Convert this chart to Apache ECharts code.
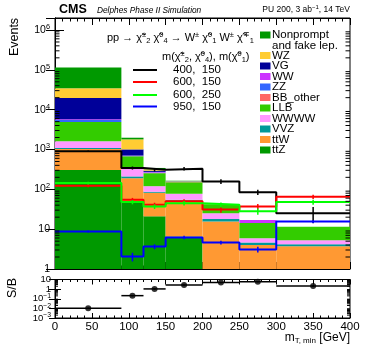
<!DOCTYPE html>
<html>
<head>
<meta charset="UTF-8">
<title>mT,min</title>
<script src="https://cdn.jsdelivr.net/npm/echarts@6.0.0/dist/echarts.min.js"></script>
<style>
  body { margin: 0; background: #fff; }
  #main { width: 369px; height: 354px; }
</style>
</head>
<body>
<div id="main"></div>
<script>
var FONT = 'Liberation Sans';

// bin edges in GeV
var binEdges = [0, 90, 120, 150, 200, 250, 300, 400];

// backgrounds, bottom of the stack first
var ttZ       = [306, 48, 21, 6.5, 0.5, 0.3, 0.2];
var ttW       = [717, 142, 61, 45, 15, 3.7, 3.5];
var VVZ       = [75, 21, 5, 3, 2.5, 0.6, 0.5];
var WWWW      = [513, 114, 33, 23, 7, 1.3, 1.1];
var LLB       = [3290, 350, 134, 74, 17.5, 8.3, 6.2];
var BBother   = [20, 5, 2, 1, 0, 0, 0];
var ZZ        = [600, 15, 8, 2, 0, 0, 0];
var WW        = [200, 10, 10, 2, 0, 2.9, 0];
var VG        = [14000, 300, 20, 1, 0, 0, 0];
var WZ        = [15000, 790, 24, 2, 0, 0, 0];
var nonprompt = [79000, 180, 26, 5, 0, 0, 0];

var bkgValues = [ttZ, ttW, VVZ, WWWW, LLB, BBother, ZZ, WW, VG, WZ, nonprompt];
var bkgNames  = ['ttZ', 'ttW', 'VVZ', 'WWWW', 'LLB', 'BB_other', 'ZZ', 'WW', 'VG', 'WZ', 'Nonprompt\nand fake lep.'];
var bkgColors = ['#009900', '#ff9933', '#009999', '#ff99ff', '#33cc00', '#ff6666', '#3366ff', '#cc33ff', '#000099', '#ffcc33', '#009900'];

// signals: m(chi2, chi4), m(chi1)
var sigLabels = ['400,  150', '600,  150', '600,  250', '950,  150'];
var sigColors = ['#000000', '#ff0000', '#00ff00', '#0000ff'];
var sig400_150 = [900, 344, 312, 330, 158, 85, 25];
var sig600_150 = [123, 55, 41, 50, 31, 37, 65];
var sig600_250 = [144, 48, 37, 45, 41, 28, 48];
var sig950_150 = [8.7, 2.05, 3.65, 6.2, 4.6, 3.1, 15.5];
var err400_150 = [40, 30, 30, 35, 22, 13, 11];
var err600_150 = [10, 6, 5, 6, 5, 6, 8];
var err600_250 = [12, 6, 5, 6, 6, 5, 7];
var err950_150 = [0.5, 0.5, 0.5, 0.6, 0.5, 0.5, 1.2];
var sigValues = [sig400_150, sig600_150, sig600_250, sig950_150];
var sigErrors = [err400_150, err600_150, err600_250, err950_150];

// ratio panel
var sOverB    = [0.0103, 0.21, 1.05, 2.7, 4.8, 6.0, 2.15];
var sOverBErr = [0.001, 0.03, 0.12, 0.3, 0.6, 0.9, 0.5];
var ratioTicks = [10, 1, 0.1, 0.01, 0.001];

var yMainMin = 1, yMainMax = 2e6;
var yRatMin = 1e-3, yRatMax = 10;

function powLabel(v) {
    var n = Math.round(Math.log10(v));
    if (n === 0) return '1';
    if (n === 1) return '10';
    return '10{e|' + (n < 0 ? '\u2212' + (-n) : n) + '}';
}

// stacked histogram boxes
var series = [];
var cumul = [0, 0, 0, 0, 0, 0, 0];
for (var p = 0; p < bkgValues.length; p++) {
    var rows = [];
    for (var b = 0; b < binEdges.length - 1; b++) {
        var lo = cumul[b];
        var hi = lo + bkgValues[p][b];
        cumul[b] = hi;
        rows.push([binEdges[b], binEdges[b + 1], Math.max(lo, yMainMin), hi]);
    }
    series.push({
        type: 'custom',
        name: bkgNames[p],
        xAxisIndex: 0, yAxisIndex: 0,
        clip: true,
        z: 2,
        encode: { x: [0, 1], y: [2, 3] },
        itemStyle: { color: bkgColors[p] },
        renderItem: function (params, api) {
            var lo = api.value(2), hi = api.value(3);
            if (hi <= lo || hi <= yMainMin) return null;
            var a = api.coord([api.value(0), hi]);
            var c = api.coord([api.value(1), lo]);
            return {
                type: 'rect',
                shape: { x: a[0], y: a[1], width: c[0] - a[0], height: c[1] - a[1] },
                style: { fill: api.visual('color') }
            };
        },
        data: rows
    });
}

// signal step lines + error bars
for (var s = 0; s < sigValues.length; s++) {
    var pts = [], errs = [];
    for (var b = 0; b < binEdges.length - 1; b++) {
        pts.push([binEdges[b], sigValues[s][b]]);
        errs.push([(binEdges[b] + binEdges[b + 1]) / 2, sigValues[s][b], sigErrors[s][b]]);
    }
    pts.push([binEdges[binEdges.length - 1], sigValues[s][binEdges.length - 2]]);
    series.push({
        type: 'line', xAxisIndex: 0, yAxisIndex: 0,
        step: 'end', showSymbol: false, z: 5 + s,
        lineStyle: { color: sigColors[s], width: 2 },
        data: pts
    });
    series.push({
        type: 'custom', xAxisIndex: 0, yAxisIndex: 0, z: 5 + s,
        itemStyle: { color: sigColors[s] },
        encode: { x: 0, y: 1 },
        renderItem: function (params, api) {
            var v = api.value(1), e = api.value(2);
            var a = api.coord([api.value(0), v + e]);
            var c = api.coord([api.value(0), Math.max(v - e, 1e-9)]);
            return { type: 'line', shape: { x1: a[0], y1: a[1], x2: c[0], y2: c[1] },
                     style: { stroke: api.visual('color'), lineWidth: 1.5 } };
        },
        data: errs
    });
}

// S/B panel
var ratRows = [], ratPts = [];
for (var b = 0; b < binEdges.length - 1; b++) {
    ratRows.push([binEdges[b], binEdges[b + 1], sOverB[b], sOverBErr[b]]);
    ratPts.push([(binEdges[b] + binEdges[b + 1]) / 2, sOverB[b]]);
}
series.push({
    type: 'custom', xAxisIndex: 2, yAxisIndex: 2, z: 5,
    encode: { x: [0, 1], y: 2 },
    renderItem: function (params, api) {
        var v = api.value(2), e = api.value(3);
        var a = api.coord([api.value(0), v]);
        var c = api.coord([api.value(1), v]);
        var m = (a[0] + c[0]) / 2;
        var t = api.coord([0, v + e]), d = api.coord([0, Math.max(v - e, 1e-9)]);
        return { type: 'group', children: [
            { type: 'line', shape: { x1: a[0], y1: a[1], x2: c[0], y2: c[1] }, style: { stroke: '#000', lineWidth: 1.5 } },
            { type: 'line', shape: { x1: m, y1: t[1], x2: m, y2: d[1] }, style: { stroke: '#000', lineWidth: 1.5 } }
        ] };
    },
    data: ratRows
});
series.push({
    type: 'scatter', xAxisIndex: 2, yAxisIndex: 2, z: 6,
    symbol: 'circle', symbolSize: 6,
    itemStyle: { color: '#000' },
    data: ratPts
});

// S/B tick labels, drawn through the ratio y scale (they touch each other)
series.push({
    type: 'custom', xAxisIndex: 2, yAxisIndex: 2, z: 10, silent: true,
    encode: { x: 0, y: 1 },
    renderItem: function (params, api) {
        var v = api.value(1);
        var c = api.coord([0, v]);
        return { type: 'text', x: c[0] - 4, y: c[1], style: {
            text: powLabel(v), fontFamily: FONT, fontSize: 9.5, fill: '#000', align: 'right', verticalAlign: 'middle',
            rich: { e: { fontSize: 6.8, fontFamily: FONT, fill: '#000', padding: [0, 0, 5, 0] } } } };
    },
    data: ratioTicks.map(function (t) { return [0, t]; })
});

// log minor ticks (2..9 per decade) on left and right frame sides
function logTicks(xIdx, yIdx, vmin, vmax, len) {
    return {
        type: 'custom', xAxisIndex: xIdx, yAxisIndex: yIdx, z: 10, silent: true,
        encode: { x: 0, y: 1 },
        renderItem: function (params, api) {
            var kids = [];
            for (var d = Math.floor(Math.log10(vmin)); d < Math.ceil(Math.log10(vmax)); d++) {
                for (var k = 2; k <= 9; k++) {
                    var v = k * Math.pow(10, d);
                    if (v <= vmin || v >= vmax) continue;
                    var l = api.coord([0, v]), r = api.coord([400, v]);
                    kids.push({ type: 'line', shape: { x1: l[0], y1: l[1], x2: l[0] + len, y2: l[1] }, style: { stroke: '#000', lineWidth: 1 } });
                    kids.push({ type: 'line', shape: { x1: r[0], y1: r[1], x2: r[0] - len, y2: r[1] }, style: { stroke: '#000', lineWidth: 1 } });
                }
            }
            return { type: 'group', children: kids };
        },
        data: [[0, vmin]]
    };
}
series.push(logTicks(0, 0, yMainMin, yMainMax, 4.5));
series.push(logTicks(2, 2, yRatMin, yRatMax, 3));

function xAx(gridIndex, pos, showLabel, tickLen) {
    return {
        type: 'value', gridIndex: gridIndex, position: pos,
        min: 0, max: 400, interval: 50,
        axisLine: { show: true, lineStyle: { color: '#000', width: 1 } },
        axisTick: { show: true, inside: true, length: tickLen, lineStyle: { color: '#000' } },
        minorTick: { show: true, splitNumber: 5, length: tickLen / 2, lineStyle: { color: '#000' } },
        splitLine: { show: false },
        minorSplitLine: { show: false },
        axisLabel: { show: showLabel, color: '#000', fontFamily: FONT, fontSize: 11.5, margin: 3,
                     showMinLabel: true, showMaxLabel: true, hideOverlap: false }
    };
}
function yAx(gridIndex, pos, mn, mx, showLabel, tickLen, fs) {
    return {
        type: 'log', logBase: 10, gridIndex: gridIndex, position: pos,
        min: mn, max: mx, splitNumber: 8,
        axisLine: { show: true, lineStyle: { color: '#000', width: 1 } },
        axisTick: { show: true, inside: true, length: tickLen, lineStyle: { color: '#000' } },
        splitLine: { show: false },
        axisLabel: {
            show: showLabel, color: '#000', fontFamily: FONT, fontSize: fs, margin: 5,
            showMinLabel: true, showMaxLabel: false, hideOverlap: false,
            formatter: powLabel,
            rich: { e: { fontSize: fs * 0.7, fontFamily: FONT, color: '#000', padding: [0, 0, fs * 0.6, 0] } }
        }
    };
}

var ru = { fontSize: 7.5, fontFamily: FONT, color: '#000', padding: [0, 0, 7, 0] };
var rd = { fontSize: 7.5, fontFamily: FONT, color: '#000', padding: [6, 0, 0, 0] };
var chi = '\u03c7\u0303';

var graphic = [
    { type: 'text', x: 59, y: 10, style: { text: 'CMS', fontFamily: FONT, fontWeight: 'bold', fontSize: 12.5, fill: '#000', verticalAlign: 'middle' } },
    { type: 'text', x: 97, y: 10.5, style: { text: 'Delphes Phase II Simulation', fontFamily: FONT, fontStyle: 'italic', fontSize: 8.3, fill: '#000', verticalAlign: 'middle' } },
    { type: 'text', x: 350, y: 10, style: { text: 'PU 200, 3 ab{u|\u22121}, 14 TeV', fontFamily: FONT, fontSize: 8.5, fill: '#000', align: 'right', verticalAlign: 'middle',
        rich: { u: { fontSize: 6, fontFamily: FONT, padding: [0, 0, 5, 0] } } } },
    { type: 'text', x: 15, y: 37, rotation: Math.PI / 2, style: { text: 'Events', fontFamily: FONT, fontSize: 12.5, fill: '#000', align: 'center', verticalAlign: 'middle' } },
    { type: 'text', x: 13, y: 288, rotation: Math.PI / 2, style: { text: 'S/B', fontFamily: FONT, fontSize: 12.5, fill: '#000', align: 'center', verticalAlign: 'middle' } },
    { type: 'text', x: 350, y: 338, style: { text: 'm{d|T, min} [GeV]', fontFamily: FONT, fontSize: 12, fill: '#000', align: 'right', verticalAlign: 'middle',
        rich: { d: { fontSize: 8, fontFamily: FONT, padding: [6, 0, 0, 0] } } } },
    { type: 'text', x: 107, y: 38, style: {
        text: 'pp \u2192 ' + chi + '{u|\u00b1}{d|2} ' + chi + '{u|0}{d|4} \u2192 W{u|\u00b1} ' + chi + '{u|0}{d|1} W{u|\u00b1} ' + chi + '{u|\u2213}{d|1}',
        fontFamily: FONT, fontSize: 11, fill: '#000', verticalAlign: 'middle', rich: { u: ru, d: rd } } },
    { type: 'text', x: 162, y: 57, style: {
        text: 'm(' + chi + '{u|\u00b1}{d|2}, ' + chi + '{u|0}{d|4}), m(' + chi + '{u|0}{d|1})',
        fontFamily: FONT, fontSize: 11, fill: '#000', verticalAlign: 'middle', rich: { u: ru, d: rd } } }
];

var sigLegendY = [70, 82, 95, 106.5];
for (var s = 0; s < sigLabels.length; s++) {
    graphic.push({ type: 'line', shape: { x1: 133, y1: sigLegendY[s], x2: 157, y2: sigLegendY[s] }, style: { stroke: sigColors[s], lineWidth: 2 } });
    graphic.push({ type: 'text', x: 173, y: sigLegendY[s], style: { text: sigLabels[s], fontFamily: FONT, fontSize: 11.5, fill: '#000', verticalAlign: 'middle' } });
}

var legY = [35, 55.5, 66, 76.5, 87, 97.5, 108, 118.5, 129, 139.5, 150];
for (var i = 0; i < bkgNames.length; i++) {
    var p = bkgNames.length - 1 - i;
    graphic.push({ type: 'rect', shape: { x: 260, y: legY[i] - 3.5, width: 10.5, height: 7 }, style: { fill: bkgColors[p] } });
    graphic.push({ type: 'text', x: 272, y: i === 0 ? 29.5 : legY[i], style: { text: bkgNames[p], fontFamily: FONT, fontSize: 11.5, lineHeight: 11, fill: '#000', verticalAlign: i === 0 ? 'top' : 'middle' } });
}

var chart = echarts.init(document.getElementById('main'), null, { renderer: 'canvas' });
chart.setOption({
    backgroundColor: '#fff',
    animation: false,
    grid: [
        { left: 55, top: 18, width: 295, height: 251, show: true, borderColor: '#000', borderWidth: 1 },
        { left: 55, top: 279.5, width: 295, height: 38.5, show: true, borderColor: '#000', borderWidth: 1 }
    ],
    xAxis: [
        xAx(0, 'bottom', false, 7),
        xAx(0, 'top', false, 7),
        xAx(1, 'bottom', true, 5),
        xAx(1, 'top', false, 5)
    ],
    yAxis: [
        yAx(0, 'left', yMainMin, yMainMax, true, 9, 10.5),
        yAx(0, 'right', yMainMin, yMainMax, false, 9, 10.5),
        yAx(1, 'left', yRatMin, yRatMax, false, 6, 9.5),
        yAx(1, 'right', yRatMin, yRatMax, false, 6, 9.5)
    ],
    graphic: graphic,
    series: series
});
</script>
</body>
</html>
